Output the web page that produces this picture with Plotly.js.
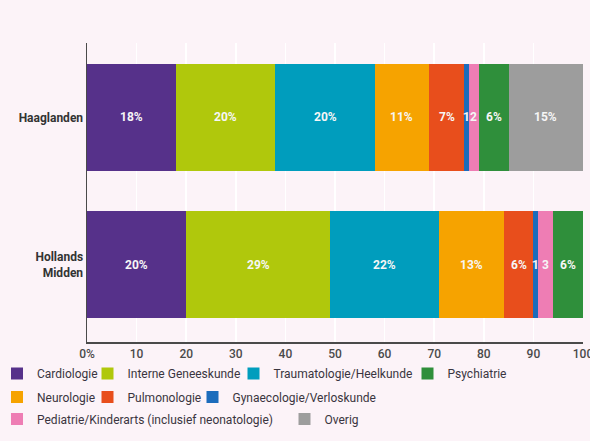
<!DOCTYPE html>
<html>
<head>
<meta charset="utf-8">
<script src="https://cdn.plot.ly/plotly-3.0.1.min.js"></script>
<style>html,body{margin:0;padding:0;background:#fcf3f8;}</style>
</head>
<body>
<div id="chart" style="width:590px;height:441px;"></div>
<script>
const regions = ["Haaglanden", "Hollands<br>Midden"];
const specialties = ["Cardiologie", "Interne Geneeskunde", "Traumatologie/Heelkunde", "Neurologie", "Pulmonologie", "Gynaecologie/Verloskunde", "Pediatrie/Kinderarts (inclusief neonatologie)", "Psychiatrie", "Overig"];
const haaglanden = [18, 20, 20, 11, 7, 1, 2, 6, 15];
const hollandsMidden = [20, 29, 22, 13, 6, 1, 3, 6, 0];
const colors = ["#56318a", "#b0c80c", "#009dbd", "#f6a300", "#e84e1c", "#1c6cbc", "#ee7db4", "#2f8f3b", "#9d9d9d"];
const xTickVals = [0, 10, 20, 30, 40, 50, 60, 70, 80, 90, 100];
const xTickText = ["0%", "10", "20", "30", "40", "50", "60", "70", "80", "90", "100"];

// legend placement (layout only): left edge px, row index
const legendLeftPx = [-3, 87.5, 233.5, -3, 87.5, 192.5, -3, 407.5, 284.5];
const legendRowIdx = [0, 0, 0, 1, 1, 1, 2, 0, 2];
const rowCenterPx = [373.5, 397, 419];

const FONT = "Roboto, 'DejaVu Sans', sans-serif";
const W = 590, H = 441, ML = 87, MR = 7, MT = 43, MB = 99;
const plotW = W - ML - MR, plotH = H - MT - MB;
const series = [haaglanden, hollandsMidden];

const traces = specialties.map((name, i) => ({
  type: "bar",
  orientation: "h",
  name: name,
  y: regions,
  x: series.map(s => s[i]),
  marker: {color: colors[i], line: {width: 0}},
  textposition: "none",
  hoverinfo: "none",
  legend: i === 0 ? "legend" : "legend" + (i + 1)
}));

const annotations = [];
series.forEach((s, r) => {
  let cum = 0;
  s.forEach((v, i) => {
    if (v > 0) {
      annotations.push({
        x: cum + v / 2, y: regions[r], xref: "x", yref: "y",
        text: "<b>" + (v < 4 ? String(v) : v + "%") + "</b>",
        showarrow: false,
        font: {family: FONT, size: 12, color: "#f6f6f6"}
      });
    }
    cum += v;
  });
});

const layout = {
  width: W, height: H,
  margin: {l: ML, r: MR, t: MT, b: MB, autoexpand: false},
  paper_bgcolor: "#fcf3f8",
  plot_bgcolor: "#fcf3f8",
  barmode: "stack",
  bargap: 0.273,
  font: {family: FONT, color: "#333"},
  xaxis: {
    range: [0, 100], tickvals: xTickVals, ticktext: xTickText,
    showgrid: true, gridcolor: "#ffffff", gridwidth: 1.5,
    showline: true, linecolor: "#4a4a4a", linewidth: 1.5,
    zeroline: false, ticks: "", ticklabeloverflow: "allow",
    tickfont: {family: FONT, size: 12, color: "#4a4a4a", weight: 500}
  },
  yaxis: {
    type: "category", range: [1.525, -0.506],
    showgrid: false, showline: true, linecolor: "#4a4a4a", linewidth: 1.5,
    ticks: "", ticklabelstandoff: 0,
    tickfont: {family: FONT, size: 12, color: "#333", weight: "bold"}
  },
  showlegend: true,
  annotations: annotations
};

specialties.forEach((name, i) => {
  const key = i === 0 ? "legend" : "legend" + (i + 1);
  layout[key] = {
    orientation: "h", xanchor: "left", yanchor: "middle",
    x: (legendLeftPx[i] - ML) / plotW,
    y: (MT + plotH - rowCenterPx[legendRowIdx[i]]) / plotH,
    font: {family: FONT, size: 12, color: "#3a3540"},
    bgcolor: "rgba(0,0,0,0)", borderwidth: 0,
    itemclick: false, itemdoubleclick: false
  };
});

Plotly.newPlot("chart", traces, layout, {displayModeBar: false, staticPlot: true});
</script>
</body>
</html>
